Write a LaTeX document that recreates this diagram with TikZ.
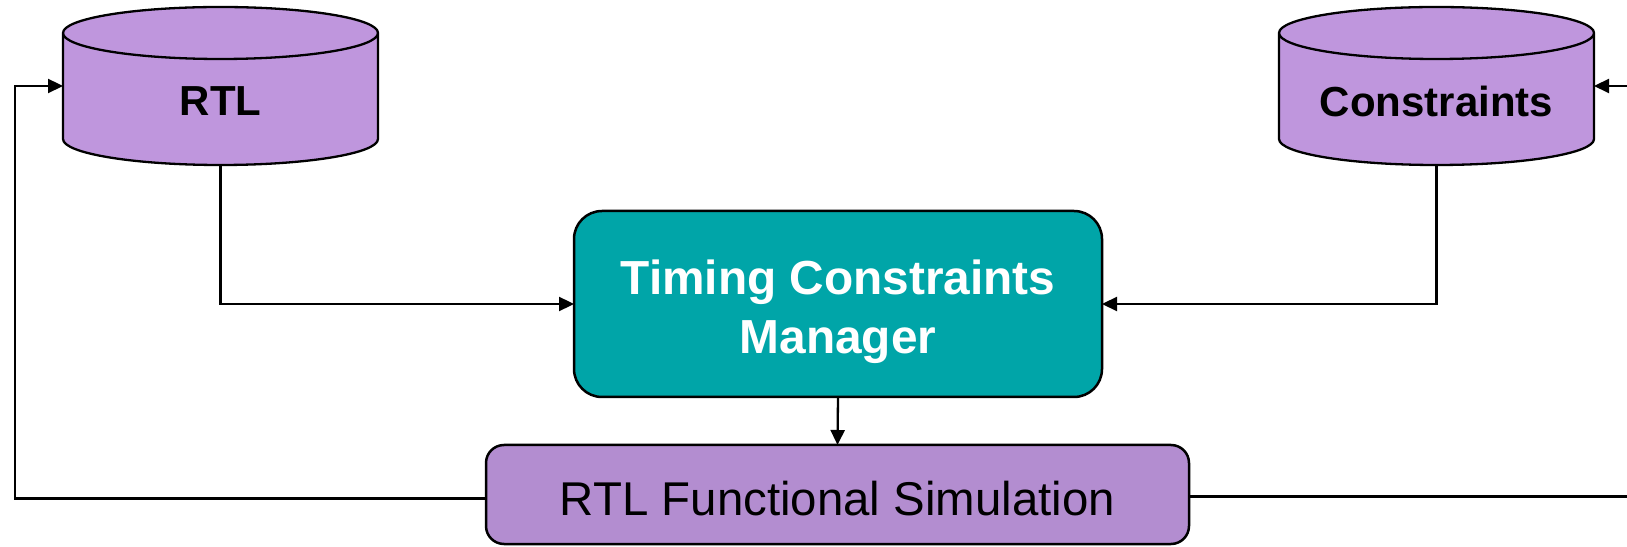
\documentclass[tikz,border=0pt]{standalone}
\usepackage{fontspec}
\setmainfont{Liberation Sans}
\usetikzlibrary{arrows.meta,calc}
\definecolor{dbfill}{HTML}{BF96DD}
\definecolor{simfill}{HTML}{B38DD0}
\definecolor{tcmfill}{HTML}{00A5A8}
% draws a vertical database cylinder filling the bounds of node #1
\newcommand\dbdraw[1]{%
  \draw[line width=2.3pt, fill=dbfill, line join=round]
    let \p1=(#1.north west), \p2=(#1.south east), \n1={(\x2-\x1)/2} in
    (\x1,\y1-26pt) -- (\x1,\y2+26pt)
      arc[start angle=180, end angle=360, x radius=\n1, y radius=26pt]
      -- (\x2,\y1-26pt)
      arc[start angle=0, end angle=180, x radius=\n1, y radius=26pt] -- cycle
    (\x1,\y1-26pt) arc[start angle=180, end angle=360, x radius=\n1, y radius=26pt];
}
\tikzset{
  dbbox/.style={minimum width=315pt, minimum height=158pt, inner sep=0pt, outer sep=0pt},
  dblabel/.style={font=\fontsize{42}{50}\selectfont\bfseries, inner sep=0pt},
  tcmbox/.style={draw=black, line width=2.5pt, fill=tcmfill, rounded corners=28pt,
    minimum width=528pt, minimum height=186pt, outer sep=0pt},
  tcmtext/.style={align=center, text=white, inner sep=0pt,
    font=\fontsize{47.8}{59}\selectfont\bfseries},
  simbox/.style={draw=black, line width=2.5pt, fill=simfill, rounded corners=18pt,
    minimum width=703pt, minimum height=99pt, text height=42pt, text depth=0pt,
    font=\fontsize{47.4}{56}\selectfont, outer sep=0pt},
  flow/.style={draw=black, line width=2.3pt, -{Triangle[length=15pt,width=14pt]}}
}
\begin{document}
\begin{tikzpicture}[x=1pt, y=1pt]
\useasboundingbox (0,0) rectangle (1627,546);
\clip (0,0) rectangle (1627,546);

% data stores
\node[dbbox] (rtl) at (220.5,460) {};
\node[dbbox] (cons) at (1436.5,460) {};
\dbdraw{rtl}
\dbdraw{cons}
\node[dblabel] (rtltext) at ([yshift=-15pt]rtl.center) {RTL};
\node[dblabel] (constext) at ([yshift=-15pt]cons.center) {Constraints};

% processing steps
\node[tcmbox] (tcm) at (838,242) {};
\node[tcmtext] (tcmtext) at ([yshift=-8pt]tcm.center) {Timing Constraints\\Manager};
\node[simbox] (sim) at (837.5,51.5) {RTL Functional Simulation};

% data flow
\draw[flow] (rtl.south) |- (tcm.west);
\draw[flow] (cons.south) |- (tcm.east);
\draw[flow] (tcm.south) -- (sim.north);
\draw[flow] ([yshift=-4pt]sim.west) -| ([xshift=-48pt]rtl.west) -- (rtl.west);
\draw[flow] ([yshift=-2pt]sim.east) -| ([xshift=60pt]cons.east) -- (cons.east);
\end{tikzpicture}
\end{document}
